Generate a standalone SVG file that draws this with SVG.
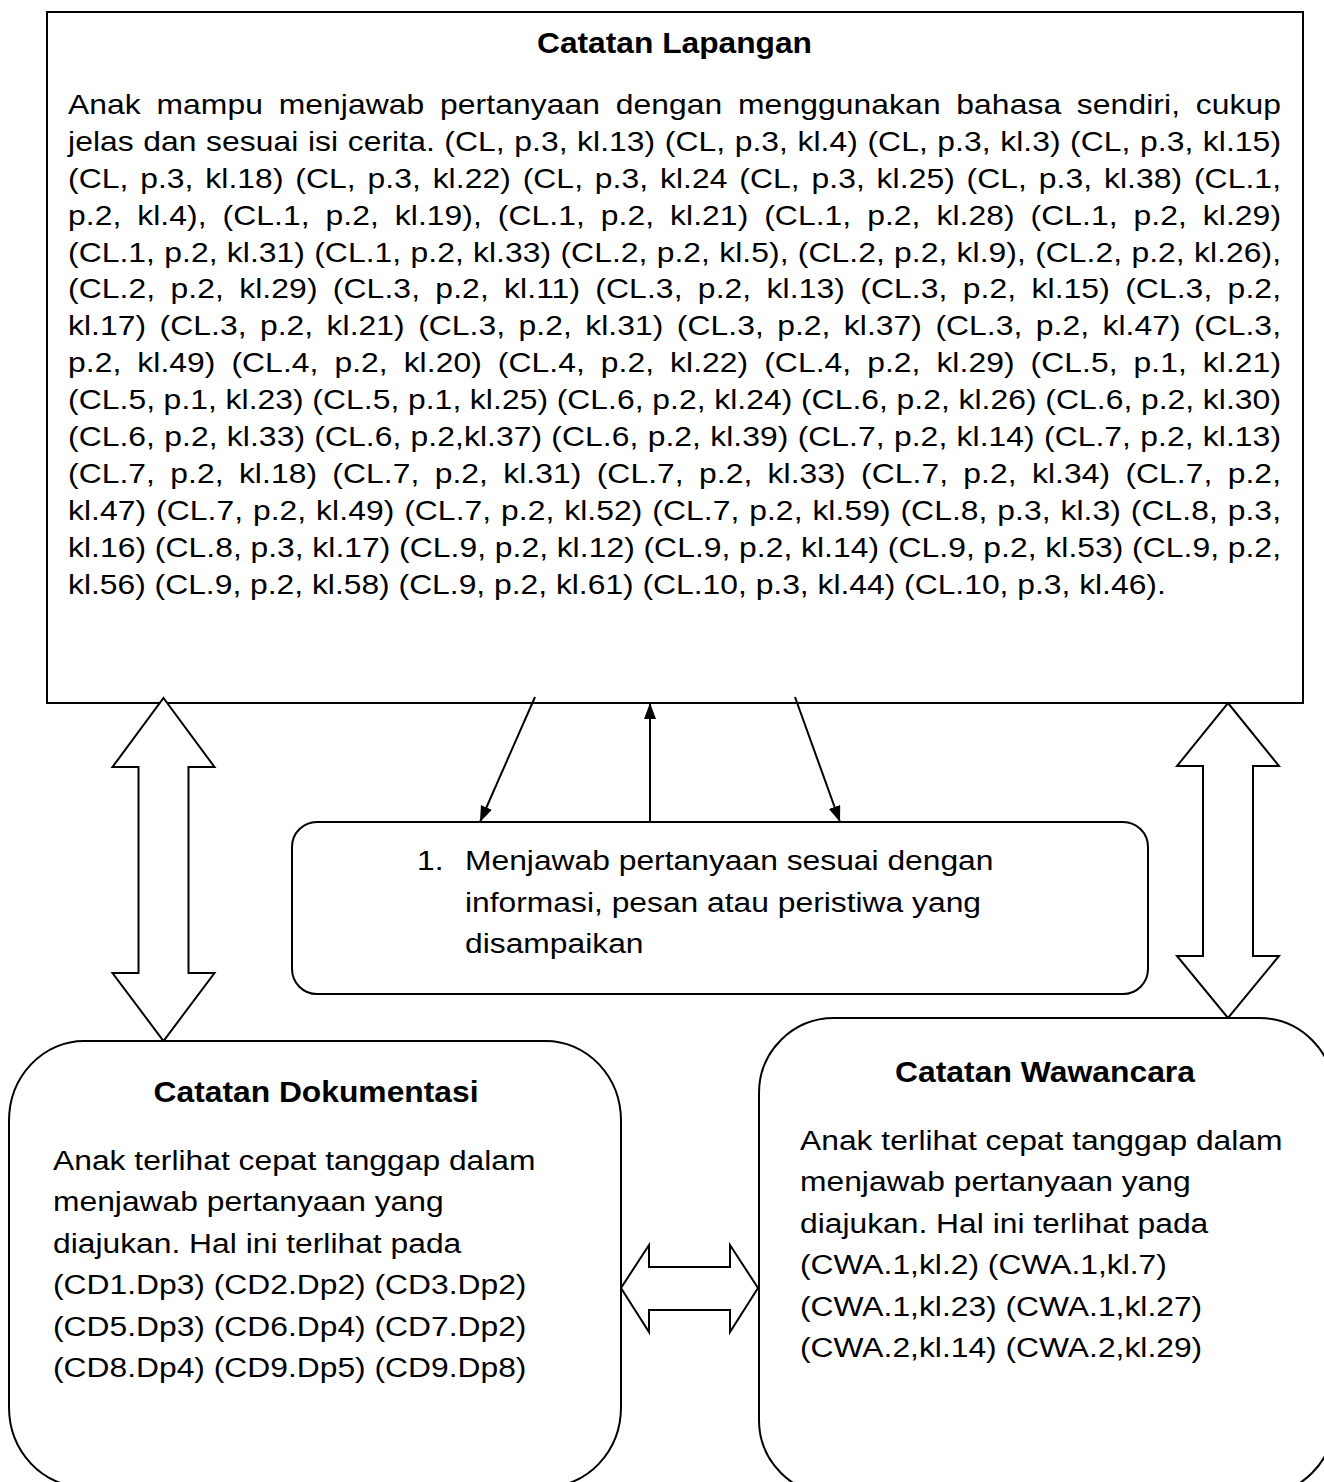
<svg xmlns="http://www.w3.org/2000/svg" width="1324" height="1482" viewBox="0 0 1324 1482">
  <style>
    .box { fill: #ffffff; stroke: #000000; stroke-width: 2; }
    .txt { font-family: "Liberation Sans", Arial, sans-serif; font-size: 28px; fill: #000000; }
    .small { font-size: 27px; }
    .ttl { font-family: "Liberation Sans", Arial, sans-serif; font-size: 30px; font-weight: bold; fill: #000000; }
    .link { stroke: #000000; stroke-width: 2; fill: none; }
    .block { fill: #ffffff; stroke: #000000; stroke-width: 2; stroke-linejoin: miter; }
  </style>
  <defs>
    <marker id="head" markerUnits="userSpaceOnUse" markerWidth="18" markerHeight="14" refX="16" refY="6" orient="auto">
      <path d="M0,0 L16,6 L0,12 z" fill="#000000"/>
    </marker>
  </defs>

  <rect width="1324" height="1482" fill="#ffffff"/>

  <!-- Field notes: body text is set in a horizontally widened run -->
  <g id="catatan-lapangan">
    <rect class="box" x="47" y="12" width="1256" height="691"/>
    <text class="ttl" x="537" y="53" textLength="275" lengthAdjust="spacingAndGlyphs">Catatan Lapangan</text>
    <g transform="translate(68 0) scale(1.178 1)">
      <text class="txt small" x="0" y="114" textLength="1029.7" lengthAdjust="spacing" word-spacing="5.7">Anak mampu menjawab pertanyaan dengan menggunakan bahasa sendiri, cukup</text>
      <text class="txt small" x="0" y="150.9" textLength="1029.7" lengthAdjust="spacing" word-spacing="0.5">jelas dan sesuai isi cerita. (CL, p.3, kl.13) (CL, p.3, kl.4) (CL, p.3, kl.3) (CL, p.3, kl.15)</text>
      <text class="txt small" x="0" y="187.8" textLength="1029.7" lengthAdjust="spacing" word-spacing="2.4">(CL, p.3, kl.18) (CL, p.3, kl.22) (CL, p.3, kl.24 (CL, p.3, kl.25) (CL, p.3, kl.38) (CL.1,</text>
      <text class="txt small" x="0" y="224.7" textLength="1029.7" lengthAdjust="spacing" word-spacing="5.9">p.2, kl.4), (CL.1, p.2, kl.19), (CL.1, p.2, kl.21) (CL.1, p.2, kl.28) (CL.1, p.2, kl.29)</text>
      <text class="txt small" x="0" y="261.6" textLength="1029.7" lengthAdjust="spacing" word-spacing="0.3">(CL.1, p.2, kl.31) (CL.1, p.2, kl.33) (CL.2, p.2, kl.5), (CL.2, p.2, kl.9), (CL.2, p.2, kl.26),</text>
      <text class="txt small" x="0" y="298.5" textLength="1029.7" lengthAdjust="spacing" word-spacing="5.4">(CL.2, p.2, kl.29) (CL.3, p.2, kl.11) (CL.3, p.2, kl.13) (CL.3, p.2, kl.15) (CL.3, p.2,</text>
      <text class="txt small" x="0" y="335.4" textLength="1029.7" lengthAdjust="spacing" word-spacing="3.8">kl.17) (CL.3, p.2, kl.21) (CL.3, p.2, kl.31) (CL.3, p.2, kl.37) (CL.3, p.2, kl.47) (CL.3,</text>
      <text class="txt small" x="0" y="372.3" textLength="1029.7" lengthAdjust="spacing" word-spacing="5.9">p.2, kl.49) (CL.4, p.2, kl.20) (CL.4, p.2, kl.22) (CL.4, p.2, kl.29) (CL.5, p.1, kl.21)</text>
      <text class="txt small" x="0" y="409.2" textLength="1029.7" lengthAdjust="spacing" word-spacing="-0.3">(CL.5, p.1, kl.23) (CL.5, p.1, kl.25) (CL.6, p.2, kl.24) (CL.6, p.2, kl.26) (CL.6, p.2, kl.30)</text>
      <text class="txt small" x="0" y="446.1" textLength="1029.7" lengthAdjust="spacing" word-spacing="0.3">(CL.6, p.2, kl.33) (CL.6, p.2,kl.37) (CL.6, p.2, kl.39) (CL.7, p.2, kl.14) (CL.7, p.2, kl.13)</text>
      <text class="txt small" x="0" y="483" textLength="1029.7" lengthAdjust="spacing" word-spacing="5.4">(CL.7, p.2, kl.18) (CL.7, p.2, kl.31) (CL.7, p.2, kl.33) (CL.7, p.2, kl.34) (CL.7, p.2,</text>
      <text class="txt small" x="0" y="519.9" textLength="1029.7" lengthAdjust="spacing" word-spacing="0.8">kl.47) (CL.7, p.2, kl.49) (CL.7, p.2, kl.52) (CL.7, p.2, kl.59) (CL.8, p.3, kl.3) (CL.8, p.3,</text>
      <text class="txt small" x="0" y="556.8" textLength="1029.7" lengthAdjust="spacing" word-spacing="-0.3">kl.16) (CL.8, p.3, kl.17) (CL.9, p.2, kl.12) (CL.9, p.2, kl.14) (CL.9, p.2, kl.53) (CL.9, p.2,</text>
      <text class="txt small" x="0" y="593.7">kl.56) (CL.9, p.2, kl.58) (CL.9, p.2, kl.61) (CL.10, p.3, kl.44) (CL.10, p.3, kl.46).</text>
    </g>
  </g>

  <!-- Connectors: thin arrows and hollow double arrows -->
  <g id="connectors">
    <line class="link" x1="535" y1="697" x2="480" y2="822" marker-end="url(#head)"/>
    <line class="link" x1="650" y1="822" x2="650" y2="703" marker-end="url(#head)"/>
    <line class="link" x1="795" y1="697" x2="840" y2="822" marker-end="url(#head)"/>
    <polygon class="block" points="163.5,698 214.5,767 188.5,767 188.5,973 214.5,973 163.5,1041 112.5,973 138.5,973 138.5,767 112.5,767"/>
    <polygon class="block" points="1228,703 1279,766 1253,766 1253,956 1279,956 1228,1018 1177,956 1203,956 1203,766 1177,766"/>
    <polygon class="block" points="621,1288 649,1245 649,1267 730,1267 730,1245 758,1288 730,1332 730,1310 649,1310 649,1332"/>
  </g>

  <!-- Indicator -->
  <g id="indikator">
    <rect class="box" x="292" y="822" width="856" height="172" rx="25" ry="25"/>
    <g transform="translate(417 0) scale(1.1357 1)">
      <text class="txt" x="0" y="870">1.</text>
    </g>
    <g transform="translate(465 0) scale(1.1357 1)">
      <text class="txt" x="0" y="870">Menjawab pertanyaan sesuai dengan</text>
      <text class="txt" x="0" y="912">informasi, pesan atau peristiwa yang</text>
      <text class="txt" x="0" y="953">disampaikan</text>
    </g>
  </g>

  <!-- Documentation notes -->
  <g id="catatan-dokumentasi">
    <rect class="box" x="9" y="1041" width="612" height="446" rx="75" ry="80"/>
    <text class="ttl" x="153.5" y="1102" textLength="325" lengthAdjust="spacingAndGlyphs">Catatan Dokumentasi</text>
    <g transform="translate(53 0) scale(1.1357 1)">
      <text class="txt" x="0" y="1170">Anak terlihat cepat tanggap dalam</text>
      <text class="txt" x="0" y="1211.5">menjawab pertanyaan yang</text>
      <text class="txt" x="0" y="1253">diajukan. Hal ini terlihat pada</text>
      <text class="txt" x="0" y="1294.5">(CD1.Dp3) (CD2.Dp2) (CD3.Dp2)</text>
      <text class="txt" x="0" y="1336">(CD5.Dp3) (CD6.Dp4) (CD7.Dp2)</text>
      <text class="txt" x="0" y="1377.5">(CD8.Dp4) (CD9.Dp5) (CD9.Dp8)</text>
    </g>
  </g>

  <!-- Interview notes -->
  <g id="catatan-wawancara">
    <rect class="box" x="759" y="1018" width="575" height="477" rx="75" ry="75"/>
    <text class="ttl" x="895" y="1082" textLength="300" lengthAdjust="spacingAndGlyphs">Catatan Wawancara</text>
    <g transform="translate(800 0) scale(1.1357 1)">
      <text class="txt" x="0" y="1150">Anak terlihat cepat tanggap dalam</text>
      <text class="txt" x="0" y="1191.5">menjawab pertanyaan yang</text>
      <text class="txt" x="0" y="1233">diajukan. Hal ini terlihat pada</text>
      <text class="txt" x="0" y="1274.5">(CWA.1,kl.2) (CWA.1,kl.7)</text>
      <text class="txt" x="0" y="1316">(CWA.1,kl.23) (CWA.1,kl.27)</text>
      <text class="txt" x="0" y="1357.5">(CWA.2,kl.14) (CWA.2,kl.29)</text>
    </g>
  </g>
</svg>
